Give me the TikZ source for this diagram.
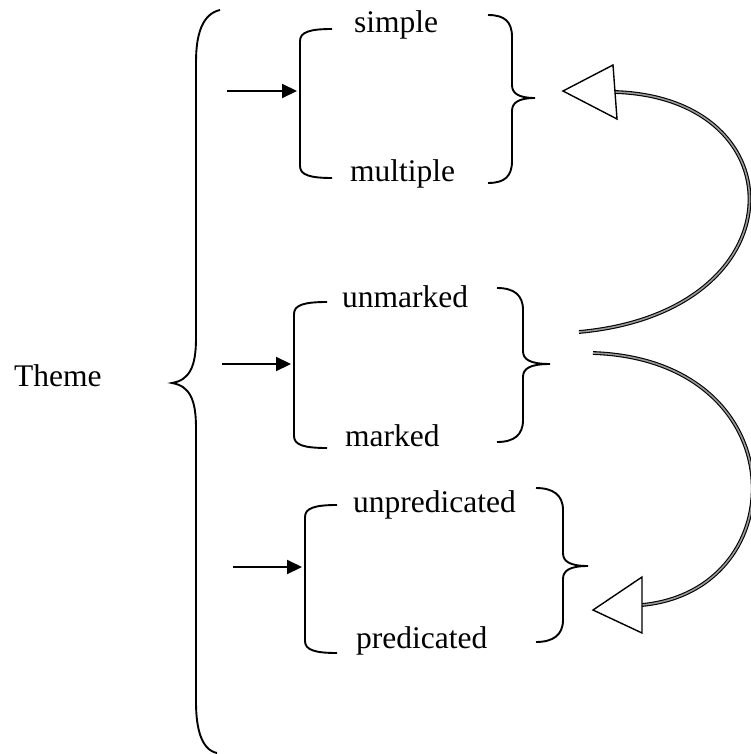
\documentclass[tikz,border=0pt]{standalone}
\usepackage{fontspec}
\setmainfont{Liberation Serif}
\usetikzlibrary{arrows.meta}

% right-hand curly brace: end x, stem x, tip x, top y, tip y, bottom y
\newcommand\rightcurl[6]{%
  \draw[bracestroke] (#1,#4) .. controls (#1+17,#4) and (#2,#4+7) .. (#2,#4+22)
    -- (#2,#5-13) .. controls (#2,#5-5) and (#2+6,#5) .. (#3,#5)
    .. controls (#2+6,#5) and (#2,#5+5) .. (#2,#5+13)
    -- (#2,#6-22) .. controls (#2,#6-7) and (#1+17,#6) .. (#1,#6);}
% left-hand bracket with curled ends: end x, stem x, top y, bottom y
\newcommand\leftcurl[4]{%
  \draw[bracestroke] (#1,#3) .. controls (#2+10,#3) and (#2,#3+3) .. (#2,#3+12)
    -- (#2,#4-12) .. controls (#2,#4-3) and (#2+10,#4) .. (#1,#4);}

\begin{document}
\begin{tikzpicture}[x=1pt,y=-1pt,
  bracestroke/.style={line width=1.9pt},
  feed/.style={line width=2.1pt,-{Triangle[length=15pt,width=14pt]}},
  loop/.style={draw=black,line width=1.1pt,double=black!40,double distance=1.6pt},
  openhead/.style={draw=black,fill=white,line width=1.4pt,line join=miter},
  word/.style={anchor=base west,inner sep=0pt,font=\fontsize{31.5}{36}\selectfont}]
\useasboundingbox (0,0) rectangle (751,754);

% label and the large brace
\node[word] (theme) at (14,386) {Theme};
\draw[bracestroke] (220,10) .. controls (202,14) and (196,35) .. (196,62)
  -- (196,338) .. controls (196,366) and (190,380) .. (172,383)
  .. controls (190,386) and (196,400) .. (196,428)
  -- (196,702) .. controls (196,730) and (202,750) .. (217,753);

% first system
\leftcurl{332}{300}{29}{178}
\rightcurl{488}{512}{535}{15}{98}{183}
\node[word] (simple) at (354,33) {simple};
\node[word] (multiple) at (350,182) {multiple};
\coordinate (in1) at (227,91);
\coordinate (br1) at (297,91);
\draw[feed] (in1) -- (br1);

% second system
\leftcurl{327}{294}{302}{448}
\rightcurl{497}{523}{550}{288}{364}{442}
\node[word] (unmarked) at (342,307) {unmarked};
\node[word] (marked) at (345,446) {marked};
\coordinate (in2) at (222,364);
\coordinate (br2) at (291,364);
\draw[feed] (in2) -- (br2);

% third system
\leftcurl{337}{305}{505}{653}
\rightcurl{536}{563}{588}{488}{566}{642}
\node[word] (unpred) at (353,512) {unpredicated};
\node[word] (pred) at (356,648) {predicated};
\coordinate (in3) at (233,567);
\coordinate (br3) at (302,567);
\draw[feed] (in3) -- (br3);

% curved links with open triangular heads
\coordinate (upstart) at (579,332);
\coordinate (upend) at (615,92);
\draw[loop] (upstart) .. controls (800,312) and (800,98) .. (upend);
\coordinate (uptip) at (563,91);
\draw[openhead] (uptip) -- (613,65) -- (617,119) -- cycle;

\coordinate (downstart) at (593,353);
\coordinate (downend) at (642,605);
\draw[loop] (downstart) .. controls (797,360) and (797,590) .. (downend);
\coordinate (downtip) at (593,610);
\draw[openhead] (downtip) -- (642,577) -- (642,633) -- cycle;
\end{tikzpicture}
\end{document}
